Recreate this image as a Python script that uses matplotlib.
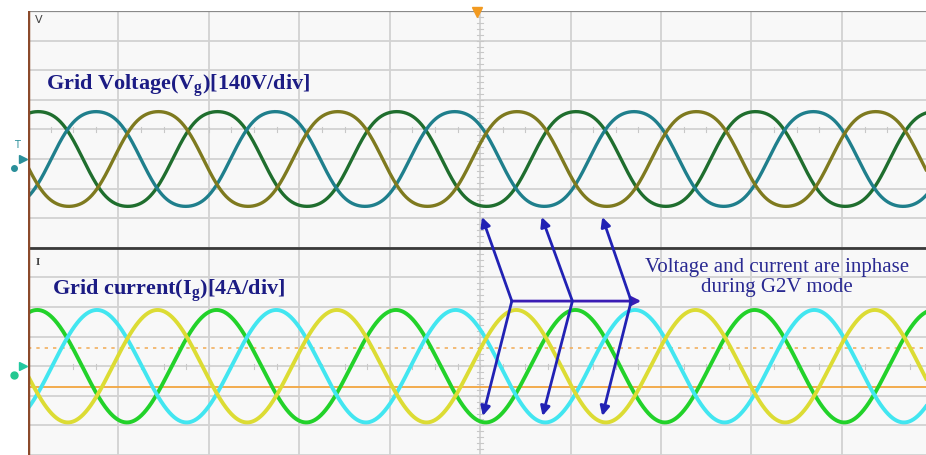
import numpy as np
import matplotlib
matplotlib.use("Agg")
import matplotlib.pyplot as plt

plt.rcParams['mathtext.fontset'] = 'custom'
plt.rcParams['mathtext.rm'] = 'Liberation Serif'
plt.rcParams['mathtext.bf'] = 'Liberation Serif:bold'

# scope settings (units: divisions)
period = 1.983                     # one mains cycle, div
t_end = 9.93                       # visible part of the screen

# grid voltage traces (upper channel)
volt_names = ['Va', 'Vb', 'Vc']
volt_troughs = [5.07, 5.71, 6.40]  # position of a minimum, div
volt_colors = ['#1f6e2e', '#1f7f8c', '#7e7a1f']
volt_center = 11.0
volt_amp = 1.6
volt_h3 = 0.05                     # flattening of the tops

# grid current traces (lower channel)
curr_names = ['Ia', 'Ib', 'Ic']
curr_troughs = [5.06, 5.72, 6.39]
curr_colors = ['#22d22a', '#42e6f0', '#dcdc34']
curr_center = 4.0
curr_amp = 1.9

# reference markers
orange_solid = 3.30
orange_dotted = 4.62

# annotation arrows: hub points on the horizontal bar, tips on the traces
hub_x = [5.35, 6.02, 6.67]
hub_y = 6.20
bar_end = 6.78
up_tip_x = [5.02, 5.68, 6.35]
up_tip_y = 9.04
down_tip_x = [5.03, 5.69, 6.35]
down_tip_y = 2.32

fig = plt.figure(figsize=(9.26, 4.56), dpi=100)
ax = fig.add_axes([28 / 926, 0, 898 / 926, 444 / 456])
ax.set_xlim(0, t_end)
ax.set_ylim(1, 16)
ax.set_facecolor('#f8f8f8')
for s in ax.spines.values():
    s.set_visible(False)
ax.set_xticks([])
ax.set_yticks([])

# graticule
for gx in range(0, 10):
    ax.axvline(gx, color='#d2d2d2', lw=1.3, zorder=0)
for gy in range(1, 17):
    ax.axhline(gy, color='#d2d2d2', lw=1.3, zorder=0)
for yy in np.arange(1, 16, 0.2):
    ax.plot([4.97, 5.03], [yy, yy], color='#c8c8c8', lw=0.8, zorder=0)
for cy in (12, 4):
    for xx in np.arange(0, t_end, 0.25):
        ax.plot([xx, xx], [cy - 0.08, cy + 0.08], color='#c8c8c8', lw=0.8, zorder=0)

ax.axhline(16, color='#8a8a8a', lw=1.6, zorder=1)
ax.axhline(8, color='#3a3a3a', lw=2, zorder=1)
ax.axvline(0, color='#8b4a2b', lw=2.5, zorder=5)

ax.axhline(orange_solid, color='#f2a640', lw=1.3, zorder=1)
ax.axhline(orange_dotted, color='#f2b060', lw=1.2, ls=(0, (2, 3)), zorder=1)

t = np.linspace(0, t_end, 3000)
for name, tr, col in zip(volt_names, volt_troughs, volt_colors):
    th = 2 * np.pi * (t - tr) / period
    w = np.cos(th) - volt_h3 * np.cos(3 * th)
    w = w / (1 - volt_h3)
    ax.plot(t, volt_center - volt_amp * w, color=col, lw=2.4, zorder=3, label=name)

for name, tr, col in zip(curr_names, curr_troughs, curr_colors):
    th = 2 * np.pi * (t - tr) / period
    ax.plot(t, curr_center - curr_amp * np.cos(th), color=col, lw=2.8, zorder=3, label=name)

# channel labels
ax.text(0.2, 13.36, r'Grid Voltage(V$_\mathbf{g}$)[140V/div]', family='Liberation Serif',
        weight='bold', fontsize=16, color='#1c1c84', va='baseline', zorder=6)
ax.text(0.26, 6.44, r'Grid current(I$_\mathbf{g}$)[4A/div]', family='Liberation Serif',
        weight='bold', fontsize=16, color='#1c1c84', va='baseline', zorder=6)
ax.text(0.08, 15.72, 'V', fontsize=8, color='#444444', va='center', zorder=6)
ax.text(0.08, 7.55, 'I', family='Liberation Serif', weight='bold', fontsize=8,
        color='#444444', va='center', zorder=6)

ax.text(8.28, 7.03, 'Voltage and current are inphase\nduring G2V mode',
        family='Liberation Serif', fontsize=15, color='#2a2a92', ha='center',
        va='center', linespacing=1.05, zorder=6)

# arrows
arrow_col = '#2222b4'
ax.annotate('', xy=(bar_end, hub_y), xytext=(hub_x[0], hub_y),
            arrowprops=dict(arrowstyle='-|>', color='#3a1cb4', lw=2, mutation_scale=14,
                            shrinkA=0, shrinkB=0), zorder=7)
for hx, ux, dx in zip(hub_x, up_tip_x, down_tip_x):
    ax.annotate('', xy=(ux, up_tip_y), xytext=(hx, hub_y),
                arrowprops=dict(arrowstyle='-|>', color=arrow_col, lw=2, mutation_scale=14,
                                shrinkA=0, shrinkB=0), zorder=7)
    ax.annotate('', xy=(dx, down_tip_y), xytext=(hx, hub_y),
                arrowprops=dict(arrowstyle='-|>', color=arrow_col, lw=2, mutation_scale=14,
                                shrinkA=0, shrinkB=0), zorder=7)

# scope markers
ax.plot([4.97], [15.95], marker='v', color='#f29a20', ms=7, clip_on=False, zorder=8)
ax.plot([-0.06], [volt_center], marker='>', color='#2a8f9a', ms=6, clip_on=False, zorder=8)
ax.text(-0.12, volt_center + 0.5, 'T', fontsize=7, color='#2a8f9a', ha='center', va='center')
ax.plot([-0.06], [curr_center], marker='>', color='#22c8a0', ms=6, clip_on=False, zorder=8)
ax.plot([-0.15], [curr_center - 0.3], marker='o', color='#22c890', ms=5, clip_on=False, zorder=8)
ax.plot([-0.15], [volt_center - 0.3], marker='o', color='#2a8f9a', ms=4, clip_on=False, zorder=8)

fig.savefig('out.png', dpi=100)
